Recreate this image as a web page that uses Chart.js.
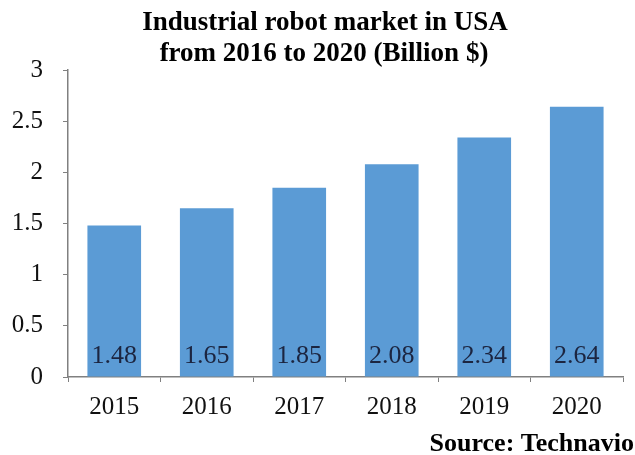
<!DOCTYPE html>
<html>
<head>
<meta charset="utf-8">
<script src="https://cdn.jsdelivr.net/npm/chart.js@4.4.1/dist/chart.umd.min.js"></script>
<style>
  html, body { margin: 0; padding: 0; background: #fff; }
  #wrap { width: 635px; height: 455px; }
</style>
</head>
<body>
<div id="wrap"><canvas id="chart" width="635" height="455"></canvas></div>
<script>
// market size per year, billion $
const years = ['2015', '2016', '2017', '2018', '2019', '2020'];
const marketValues = [1.48, 1.65, 1.85, 2.08, 2.34, 2.64];
const titleLines = ['Industrial robot market in USA', 'from 2016 to 2020 (Billion $)'];
const sourceText = 'Source: Technavio';

const SERIF = '"Liberation Serif", "Times New Roman", serif';

// title, source note and the value written at the foot of each bar
const textPlugin = {
    id: 'textPlugin',
    afterDraw(chart) {
        const ctx = chart.ctx;
        ctx.save();
        ctx.fillStyle = '#000';
        ctx.font = 'bold 27px ' + SERIF;
        ctx.textAlign = 'center';
        ctx.textBaseline = 'alphabetic';
        ctx.fillText(titleLines[0], 325, 30);
        ctx.fillText(titleLines[1], 324, 61);

        ctx.font = 'bold 26px ' + SERIF;
        ctx.textAlign = 'right';
        ctx.fillText(sourceText, 634, 451);

        const meta = chart.getDatasetMeta(0);
        const zeroY = chart.scales.y.getPixelForValue(0);
        ctx.font = '26px ' + SERIF;
        ctx.textAlign = 'center';
        ctx.fillStyle = '#1c2540';
        meta.data.forEach((bar, i) => {
            ctx.fillText(marketValues[i].toFixed(2), bar.x, zeroY - 14);
        });
        ctx.restore();
    }
};

new Chart(document.getElementById('chart'), {
    type: 'bar',
    data: {
        labels: years,
        datasets: [{
            data: marketValues,
            backgroundColor: '#5b9bd5',
            borderWidth: 0,
            categoryPercentage: 1.0,
            barPercentage: 0.58
        }]
    },
    options: {
        responsive: false,
        animation: false,
        layout: { padding: { top: 70, right: 12, left: 0, bottom: 0 } },
        plugins: {
            legend: { display: false },
            tooltip: { enabled: false },
            title: { display: false }
        },
        scales: {
            x: {
                offset: true,
                grid: {
                    offset: true,
                    drawOnChartArea: false,
                    drawTicks: true,
                    tickLength: 5,
                    color: '#808080'
                },
                border: { display: true, color: '#808080', width: 1.5 },
                ticks: {
                    color: '#111',
                    padding: 10,
                    font: { family: SERIF, size: 25 }
                },
                afterFit(scale) { scale.height = 78; }
            },
            y: {
                min: 0,
                max: 3,
                grid: {
                    drawOnChartArea: false,
                    drawTicks: true,
                    tickLength: 5,
                    color: '#808080'
                },
                border: { display: true, color: '#808080', width: 1.5 },
                ticks: {
                    stepSize: 0.5,
                    color: '#111',
                    padding: 20,
                    font: { family: SERIF, size: 25 },
                    callback: (v) => String(+v.toFixed(1))
                },
                afterFit(scale) { scale.width = 68; }
            }
        }
    },
    plugins: [textPlugin]
});
</script>
</body>
</html>
